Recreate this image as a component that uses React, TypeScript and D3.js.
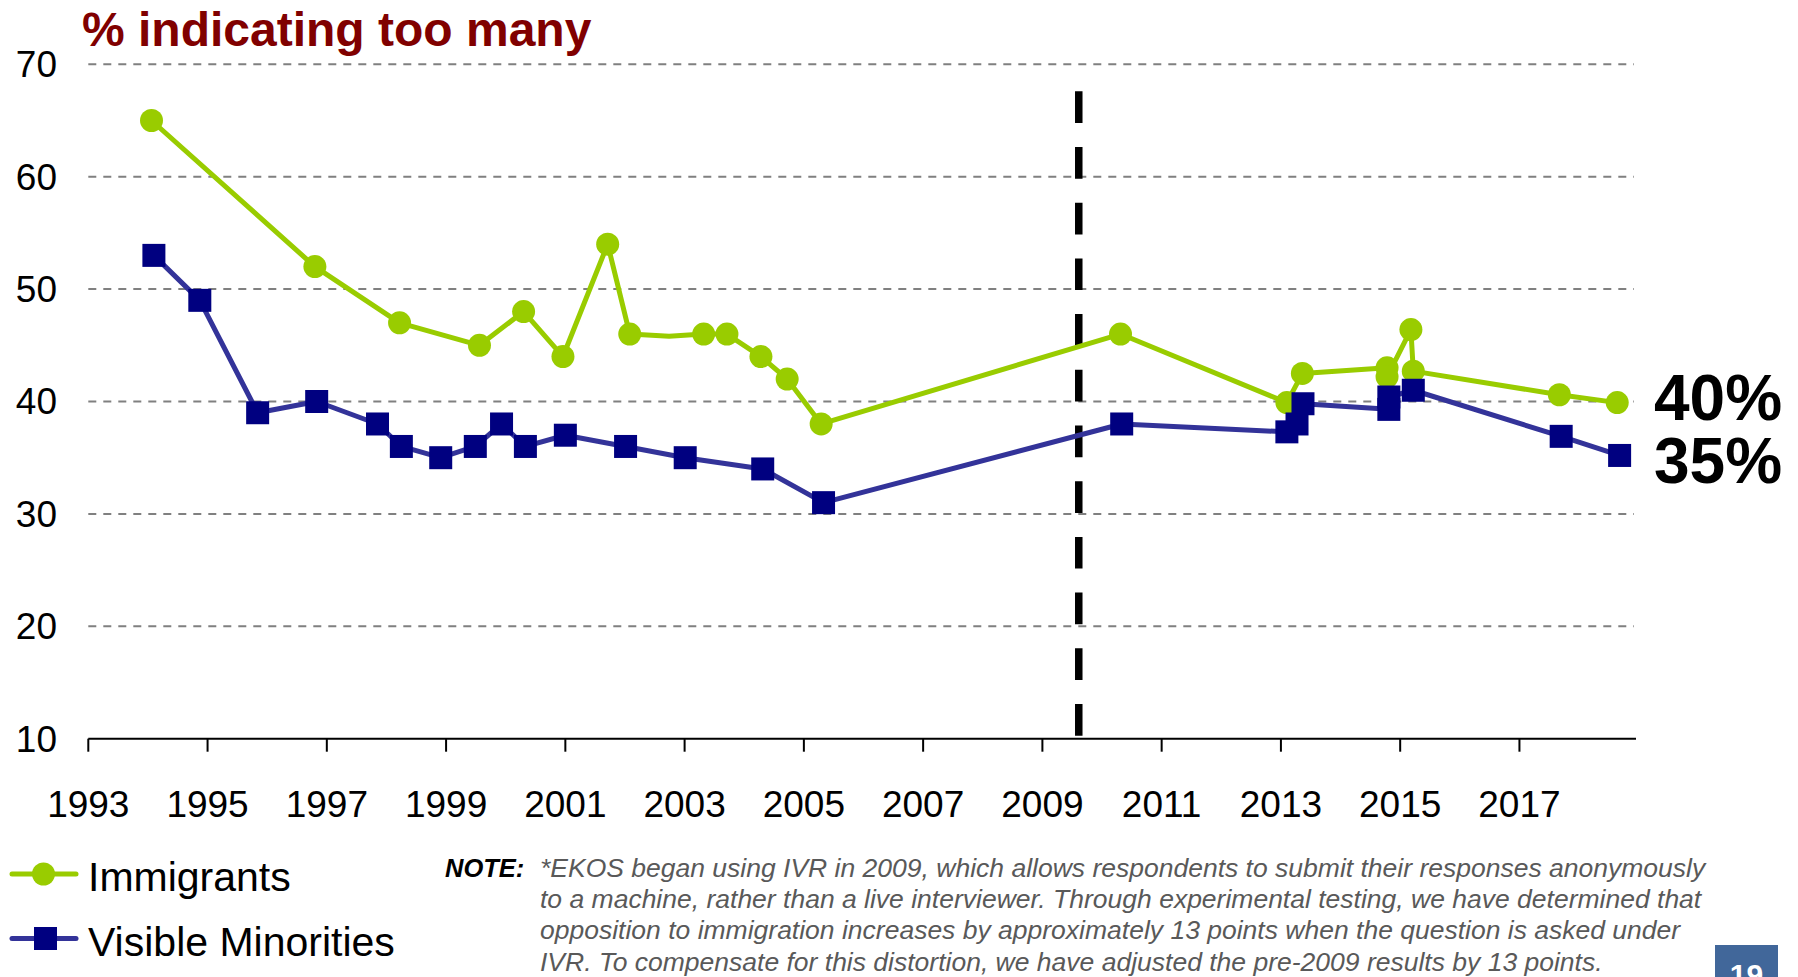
import { useEffect, useRef } from "react";
import * as d3 from "d3";

const WIDTH = 1798;
const HEIGHT = 977;

// Immigrants, % indicating too many
const immigrantYears = [
  1994.06, 1996.8, 1998.22, 1999.56, 2000.3, 2000.96, 2001.71, 2002.08, 2002.74,
  2003.32, 2003.71, 2004.28, 2004.72, 2005.29, 2010.31, 2013.1, 2013.36, 2014.78,
  2014.78, 2015.18, 2015.22, 2017.67, 2018.64,
];
const immigrantValues = [
  65, 52, 47, 45, 48, 44, 54, 46, 45.8, 46, 46, 44, 42, 38, 46, 39.9, 42.5, 43,
  42.2, 46.4, 42.7, 40.6, 39.9,
];
// this survey is on the line but has no marker
const immigrantNoMarker = [2002.74];

// Visible minorities, % indicating too many
const minorityYears = [
  1994.1, 1994.87, 1995.84, 1996.83, 1997.85, 1998.25, 1998.91, 1999.49, 1999.93,
  2000.33, 2001.0, 2002.01, 2003.01, 2004.31, 2005.33, 2010.33, 2013.1, 2013.27,
  2013.37, 2014.81, 2014.81, 2015.22, 2017.7, 2018.68,
];
const minorityValues = [
  53, 49, 39, 40, 38, 36, 35, 36, 38, 36, 37, 36, 35, 34, 31, 38, 37.3, 38, 39.8,
  39.3, 40.4, 41, 36.9, 35.2,
];

const yTicks = [10, 20, 30, 40, 50, 60, 70];
const xTicks = [1993, 1995, 1997, 1999, 2001, 2003, 2005, 2007, 2009, 2011, 2013, 2015, 2017];
const endLabels = ["40%", "35%"];
const ivrYear = 2009.61;

const noteLines = [
  "*EKOS began using IVR in 2009, which allows respondents to submit their responses anonymously",
  "to a machine, rather than a live interviewer. Through experimental testing, we have determined that",
  "opposition to immigration increases by approximately 13 points when the question is asked under",
  "IVR. To compensate for this distortion, we have adjusted the pre-2009 results by 13 points.",
];

const FONT = "'Liberation Sans', Arial, sans-serif";
const GREEN = "#99cc00";
const BLUE_LINE = "#333399";
const BLUE_MARK = "#000080";

interface Point {
  year: number;
  value: number;
}

export default function App() {
  const svgRef = useRef<SVGSVGElement>(null);

  useEffect(() => {
    document.body.style.margin = "0";
    if (!svgRef.current) return;

    const svg = d3.select(svgRef.current);
    svg.selectAll("*").remove();

    const x = d3.scaleLinear().domain([1993, 2019]).range([88.3, 1638.7]);
    const y = d3.scaleLinear().domain([10, 70]).range([738.7, 64.3]);

    const immigrants: Point[] = immigrantYears.map((d, i) => ({ year: d, value: immigrantValues[i] }));
    const minorities: Point[] = minorityYears.map((d, i) => ({ year: d, value: minorityValues[i] }));

    // title
    svg
      .append("text")
      .attr("x", 82)
      .attr("y", 46)
      .attr("font-family", FONT)
      .attr("font-weight", "bold")
      .attr("font-size", 48)
      .attr("fill", "#800000")
      .text("% indicating too many");

    // grid lines
    svg
      .append("g")
      .selectAll("line")
      .data(yTicks.filter((d) => d > 10))
      .enter()
      .append("line")
      .attr("x1", x(1993))
      .attr("x2", 1634)
      .attr("y1", (d) => y(d))
      .attr("y2", (d) => y(d))
      .attr("stroke", "#808080")
      .attr("stroke-width", 2)
      .attr("stroke-dasharray", "8,7");

    // y labels
    svg
      .append("g")
      .selectAll("text")
      .data(yTicks)
      .enter()
      .append("text")
      .attr("x", 57)
      .attr("y", (d) => y(d))
      .attr("dy", "0.35em")
      .attr("text-anchor", "end")
      .attr("font-family", FONT)
      .attr("font-size", 37)
      .text((d) => d);

    // x axis
    const axis = svg.append("g");
    axis
      .append("line")
      .attr("x1", x(1993))
      .attr("x2", 1636)
      .attr("y1", y(10))
      .attr("y2", y(10))
      .attr("stroke", "#000")
      .attr("stroke-width", 2);
    axis
      .selectAll(".tick")
      .data(xTicks)
      .enter()
      .append("line")
      .attr("x1", (d) => x(d))
      .attr("x2", (d) => x(d))
      .attr("y1", y(10))
      .attr("y2", y(10) + 13)
      .attr("stroke", "#000")
      .attr("stroke-width", 2);
    axis
      .selectAll(".lbl")
      .data(xTicks)
      .enter()
      .append("text")
      .attr("x", (d) => x(d))
      .attr("y", 817)
      .attr("text-anchor", "middle")
      .attr("font-family", FONT)
      .attr("font-size", 37)
      .text((d) => d);

    // IVR switch
    svg
      .append("line")
      .attr("x1", x(ivrYear))
      .attr("x2", x(ivrYear))
      .attr("y1", y(67.6))
      .attr("y2", y(10))
      .attr("stroke", "#000")
      .attr("stroke-width", 7.5)
      .attr("stroke-dasharray", "31.7,24");

    const line = d3
      .line<Point>()
      .x((d) => x(d.year))
      .y((d) => y(d.value));

    // immigrants
    svg
      .append("path")
      .datum(immigrants)
      .attr("fill", "none")
      .attr("stroke", GREEN)
      .attr("stroke-width", 5)
      .attr("stroke-linejoin", "round")
      .attr("d", line);
    svg
      .append("g")
      .selectAll("circle")
      .data(immigrants.filter((d) => !immigrantNoMarker.includes(d.year)))
      .enter()
      .append("circle")
      .attr("cx", (d) => x(d.year))
      .attr("cy", (d) => y(d.value))
      .attr("r", 11.5)
      .attr("fill", GREEN);

    // visible minorities
    svg
      .append("path")
      .datum(minorities)
      .attr("fill", "none")
      .attr("stroke", BLUE_LINE)
      .attr("stroke-width", 5)
      .attr("stroke-linejoin", "round")
      .attr("d", line);
    svg
      .append("g")
      .selectAll("rect")
      .data(minorities)
      .enter()
      .append("rect")
      .attr("x", (d) => x(d.year) - 11.5)
      .attr("y", (d) => y(d.value) - 11.5)
      .attr("width", 23)
      .attr("height", 23)
      .attr("fill", BLUE_MARK);

    // end labels
    const lastValues = [immigrantValues[immigrantValues.length - 1], minorityValues[minorityValues.length - 1]];
    const offsets = [17, 28];
    svg
      .append("g")
      .selectAll("text")
      .data(endLabels)
      .enter()
      .append("text")
      .attr("x", 1654)
      .attr("y", (_, i) => y(lastValues[i]) + offsets[i])
      .attr("font-family", FONT)
      .attr("font-weight", "bold")
      .attr("font-size", 64)
      .text((d) => d);

    // legend
    const legendItems = [
      { label: "Immigrants", color: GREEN, marker: "circle", cy: 874 },
      { label: "Visible Minorities", color: BLUE_LINE, marker: "square", cy: 938.5 },
    ];
    legendItems.forEach((item) => {
      const g = svg.append("g");
      g.append("line")
        .attr("x1", 12)
        .attr("x2", 76)
        .attr("y1", item.cy)
        .attr("y2", item.cy)
        .attr("stroke", item.color)
        .attr("stroke-width", 5)
        .attr("stroke-linecap", "round");
      if (item.marker === "circle") {
        g.append("circle").attr("cx", 43.5).attr("cy", item.cy).attr("r", 11.5).attr("fill", GREEN);
      } else {
        g.append("rect")
          .attr("x", 34)
          .attr("y", item.cy - 11.5)
          .attr("width", 23)
          .attr("height", 23)
          .attr("fill", BLUE_MARK);
      }
      g.append("text")
        .attr("x", 88)
        .attr("y", item.cy + 17)
        .attr("font-family", FONT)
        .attr("font-size", 41)
        .text(item.label);
    });

    // note
    svg
      .append("text")
      .attr("x", 445)
      .attr("y", 877)
      .attr("font-family", FONT)
      .attr("font-weight", "bold")
      .attr("font-style", "italic")
      .attr("font-size", 25.5)
      .text("NOTE:");
    svg
      .append("g")
      .selectAll("text")
      .data(noteLines)
      .enter()
      .append("text")
      .attr("x", 540)
      .attr("y", (_, i) => 877 + i * 31.2)
      .attr("font-family", FONT)
      .attr("font-style", "italic")
      .attr("font-size", 26.5)
      .attr("fill", "#595959")
      .text((d) => d);

    // page number
    svg.append("rect").attr("x", 1715).attr("y", 945).attr("width", 63).attr("height", 40).attr("fill", "#41679a");
    svg
      .append("text")
      .attr("x", 1746.5)
      .attr("y", 985)
      .attr("text-anchor", "middle")
      .attr("font-family", FONT)
      .attr("font-weight", "bold")
      .attr("font-size", 30)
      .attr("fill", "#fff")
      .text("19");
  }, []);

  return <svg ref={svgRef} width={WIDTH} height={HEIGHT} style={{ display: "block" }} />;
}
